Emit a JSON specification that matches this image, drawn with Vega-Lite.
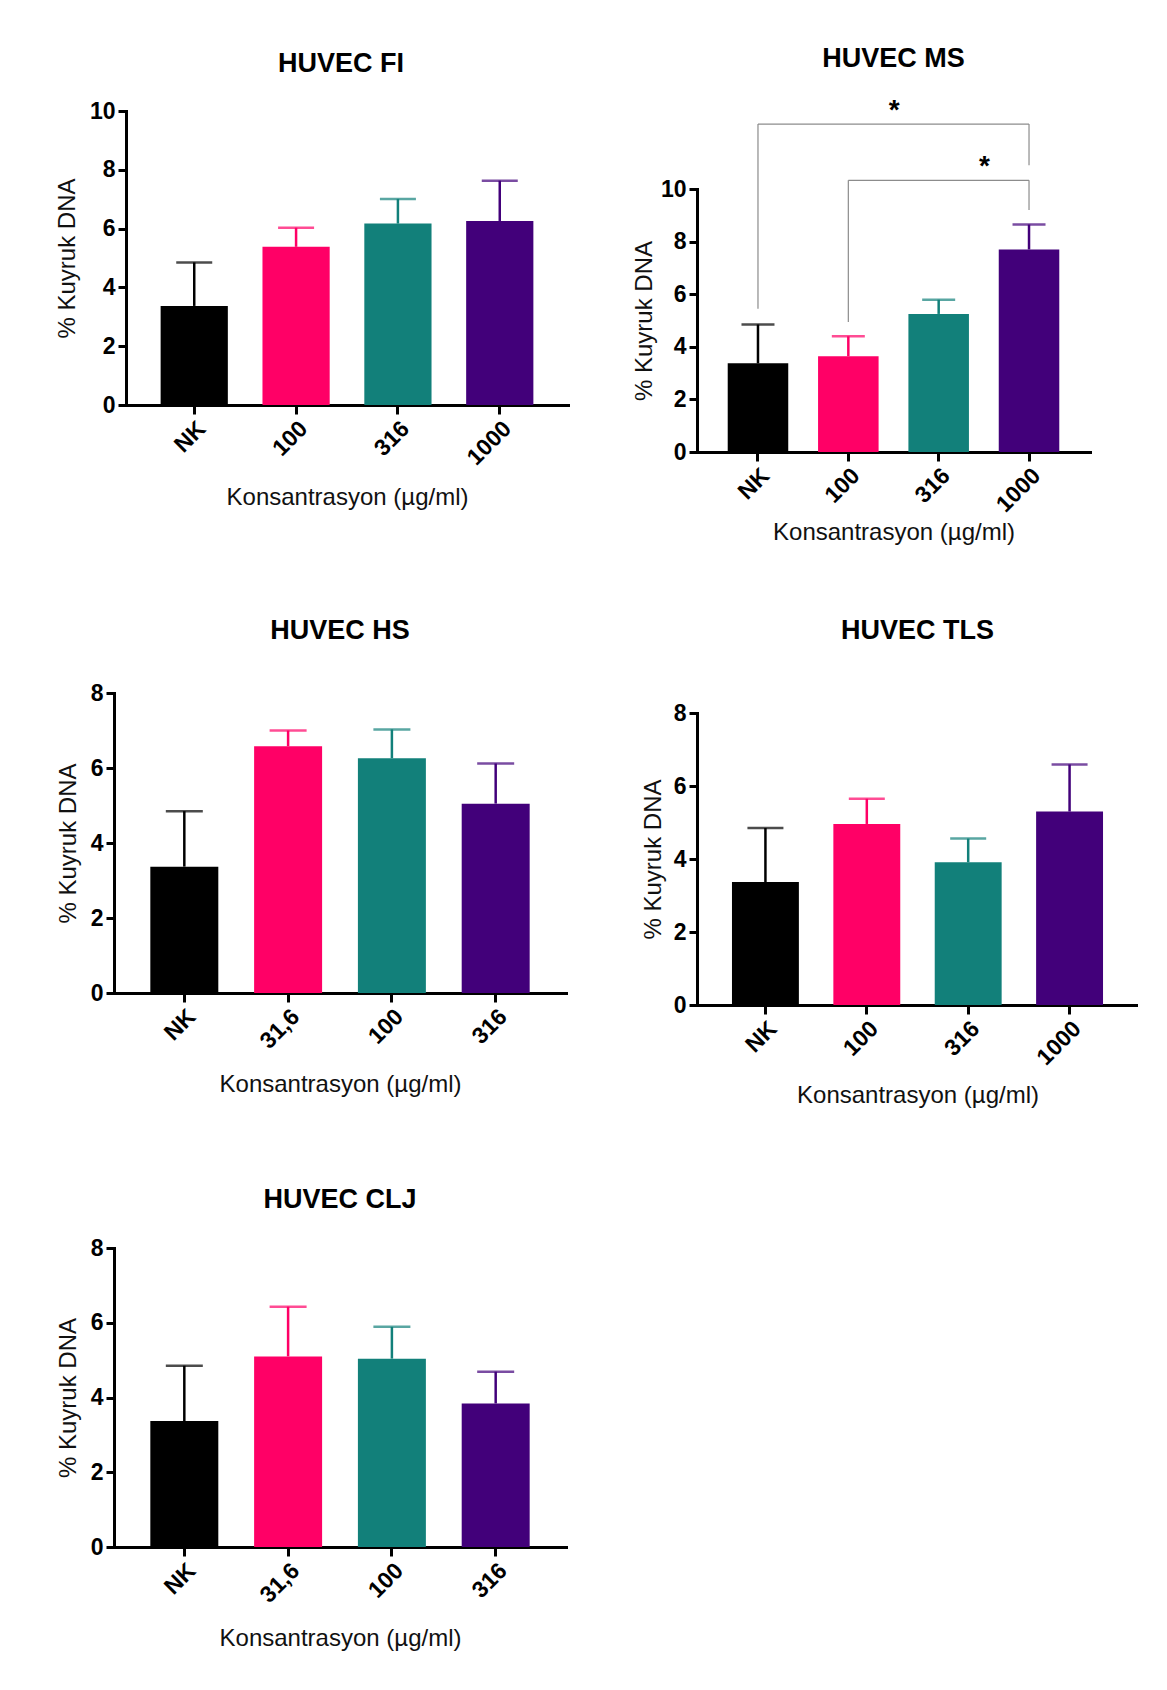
{
  "$schema": "https://vega.github.io/schema/vega-lite/v6.json",
  "background": "white",
  "padding": {"left": 55, "top": 45, "right": 0, "bottom": 0},
  "config": {
    "font": "Liberation Sans",
    "view": {"stroke": null},
    "title": {"fontSize": 27, "fontWeight": "bold", "color": "#000", "font": "Liberation Sans", "frame": "group", "anchor": "middle"},
    "axis": {
      "domainColor": "#000", "domainWidth": 3, "domainCap": "square",
      "tickColor": "#000", "tickWidth": 3,
      "labelFont": "Liberation Sans", "labelFontSize": 23, "labelFontWeight": "bold", "labelColor": "#000",
      "titleFont": "Liberation Sans", "titleFontSize": 24, "titleFontWeight": "normal", "titleColor": "#111",
      "grid": false, "labelOverlap": false
    },
    "axisX": {"labelAngle": -45, "tickSize": 9, "labelPadding": 3},
    "axisY": {"tickSize": 8, "labelPadding": 3}
  },
  "datasets": {
    "bars": [
      {"panel": "FI", "doz": "NK", "sira": 1, "ort": 3.37, "ust": 4.85},
      {"panel": "FI", "doz": "100", "sira": 2, "ort": 5.38, "ust": 6.03},
      {"panel": "FI", "doz": "316", "sira": 3, "ort": 6.17, "ust": 7.01},
      {"panel": "FI", "doz": "1000", "sira": 4, "ort": 6.26, "ust": 7.63},
      {"panel": "MS", "doz": "NK", "sira": 1, "ort": 3.37, "ust": 4.85},
      {"panel": "MS", "doz": "100", "sira": 2, "ort": 3.64, "ust": 4.40},
      {"panel": "MS", "doz": "316", "sira": 3, "ort": 5.25, "ust": 5.79},
      {"panel": "MS", "doz": "1000", "sira": 4, "ort": 7.70, "ust": 8.65},
      {"panel": "HS", "doz": "NK", "sira": 1, "ort": 3.37, "ust": 4.85},
      {"panel": "HS", "doz": "31,6", "sira": 2, "ort": 6.58, "ust": 7.00},
      {"panel": "HS", "doz": "100", "sira": 3, "ort": 6.26, "ust": 7.03},
      {"panel": "HS", "doz": "316", "sira": 4, "ort": 5.05, "ust": 6.12},
      {"panel": "TLS", "doz": "NK", "sira": 1, "ort": 3.37, "ust": 4.85},
      {"panel": "TLS", "doz": "100", "sira": 2, "ort": 4.96, "ust": 5.65},
      {"panel": "TLS", "doz": "316", "sira": 3, "ort": 3.91, "ust": 4.56},
      {"panel": "TLS", "doz": "1000", "sira": 4, "ort": 5.30, "ust": 6.59},
      {"panel": "CLJ", "doz": "NK", "sira": 1, "ort": 3.37, "ust": 4.85},
      {"panel": "CLJ", "doz": "31,6", "sira": 2, "ort": 5.10, "ust": 6.43},
      {"panel": "CLJ", "doz": "100", "sira": 3, "ort": 5.04, "ust": 5.89},
      {"panel": "CLJ", "doz": "316", "sira": 4, "ort": 3.84, "ust": 4.69}
    ],
    "yatay": [
      {"a": "NK", "b": "1000", "y": 12.47},
      {"a": "100", "b": "1000", "y": 10.33}
    ],
    "dikey": [
      {"a": "NK", "lo": 5.45, "hi": 12.47},
      {"a": "1000", "lo": 10.9, "hi": 12.47},
      {"a": "100", "lo": 4.94, "hi": 10.33},
      {"a": "1000", "lo": 9.2, "hi": 10.33}
    ],
    "yildiz": [
      {"a": "100", "y": 13.1, "t": "*"},
      {"a": "316", "y": 11.0, "t": "*"}
    ]
  },
  "hconcat": [
    {
      "spacing": 89,
      "vconcat": [
        {
          "width": 454, "height": 294,
          "title": {"text": "HUVEC FI", "offset": 22},
          "data": {"name": "bars"},
          "transform": [{"filter": "datum.panel === 'FI'"}],
          "encoding": {
            "x": {"field": "doz", "type": "nominal", "sort": ["NK", "100", "316", "1000"], "scale": {"range": [12, 454], "paddingInner": 0.34, "paddingOuter": 0.34},
                  "title": ["Konsantrasyon (µg/ml)", " "], "axis": {"titlePadding": 16, "titleLineHeight": 18}},
            "color": {"field": "sira", "type": "nominal", "scale": {"domain": [1, 2, 3, 4], "range": ["#000000", "#FF0066", "#12807A", "#42007A"]}, "legend": null}
          },
          "layer": [
            {"mark": {"type": "rule", "strokeWidth": 2.5},
             "encoding": {"y": {"field": "ort", "type": "quantitative", "scale": {"domain": [0, 10]}, "title": "% Kuyruk DNA", "axis": {"values": [0, 2, 4, 6, 8, 10], "offset": -12, "titlePadding": 9.5}}, "y2": {"field": "ust"}}},
            {"mark": {"type": "bar"},
             "encoding": {"y": {"field": "ort", "type": "quantitative", "scale": {"domain": [0, 10]}, "title": "% Kuyruk DNA"}}},
            {"mark": {"type": "tick", "thickness": 2.5, "size": 36},
             "encoding": {"y": {"field": "ust", "type": "quantitative", "scale": {"domain": [0, 10]}, "title": "% Kuyruk DNA"}}}
          ]
        },
        {
          "width": 452, "height": 300,
          "title": {"text": "HUVEC HS", "offset": 37},
          "data": {"name": "bars"},
          "transform": [{"filter": "datum.panel === 'HS'"}],
          "encoding": {
            "x": {"field": "doz", "type": "nominal", "sort": ["NK", "31,6", "100", "316"], "scale": {"paddingInner": 0.345, "paddingOuter": 0.35},
                  "title": "Konsantrasyon (µg/ml)", "axis": {"titlePadding": 20}},
            "color": {"field": "sira", "type": "nominal", "scale": {"domain": [1, 2, 3, 4], "range": ["#000000", "#FF0066", "#12807A", "#42007A"]}, "legend": null}
          },
          "layer": [
            {"mark": {"type": "rule", "strokeWidth": 2.5},
             "encoding": {"y": {"field": "ort", "type": "quantitative", "scale": {"domain": [0, 8]}, "title": "% Kuyruk DNA", "axis": {"values": [0, 2, 4, 6, 8], "titlePadding": 10}}, "y2": {"field": "ust"}}},
            {"mark": {"type": "bar"},
             "encoding": {"y": {"field": "ort", "type": "quantitative", "scale": {"domain": [0, 8]}, "title": "% Kuyruk DNA"}}},
            {"mark": {"type": "tick", "thickness": 2.5, "size": 37},
             "encoding": {"y": {"field": "ust", "type": "quantitative", "scale": {"domain": [0, 8]}, "title": "% Kuyruk DNA"}}}
          ]
        },
        {
          "width": 452, "height": 299,
          "title": {"text": "HUVEC CLJ", "offset": 23},
          "data": {"name": "bars"},
          "transform": [{"filter": "datum.panel === 'CLJ'"}],
          "encoding": {
            "x": {"field": "doz", "type": "nominal", "sort": ["NK", "31,6", "100", "316"], "scale": {"paddingInner": 0.345, "paddingOuter": 0.35},
                  "title": "Konsantrasyon (µg/ml)", "axis": {"titlePadding": 20}},
            "color": {"field": "sira", "type": "nominal", "scale": {"domain": [1, 2, 3, 4], "range": ["#000000", "#FF0066", "#12807A", "#42007A"]}, "legend": null}
          },
          "layer": [
            {"mark": {"type": "rule", "strokeWidth": 2.5},
             "encoding": {"y": {"field": "ort", "type": "quantitative", "scale": {"domain": [0, 8]}, "title": "% Kuyruk DNA", "axis": {"values": [0, 2, 4, 6, 8], "titlePadding": 10}}, "y2": {"field": "ust"}}},
            {"mark": {"type": "bar"},
             "encoding": {"y": {"field": "ort", "type": "quantitative", "scale": {"domain": [0, 8]}, "title": "% Kuyruk DNA"}}},
            {"mark": {"type": "tick", "thickness": 2.5, "size": 37},
             "encoding": {"y": {"field": "ust", "type": "quantitative", "scale": {"domain": [0, 8]}, "title": "% Kuyruk DNA"}}}
          ]
        }
      ]
    },
    {
      "spacing": 72,
      "vconcat": [
        {
          "width": 393, "height": 341,
          "title": {"text": "HUVEC MS", "offset": 24},
          "layer": [
            {"data": {"name": "bars"},
             "transform": [{"filter": "datum.panel === 'MS'"}],
             "mark": {"type": "rule", "strokeWidth": 2.5},
             "encoding": {
               "x": {"field": "doz", "type": "nominal", "sort": ["NK", "100", "316", "1000"], "scale": {"domain": ["NK", "100", "316", "1000"], "paddingInner": 0.33, "paddingOuter": 0.34}, "title": "Konsantrasyon (µg/ml)", "axis": {"titlePadding": 4}},
               "y": {"field": "ort", "type": "quantitative", "scale": {"domain": [0, 10], "range": [341, 78]}, "title": "% Kuyruk DNA", "axis": {"values": [0, 2, 4, 6, 8, 10], "titlePadding": 4}},
               "y2": {"field": "ust"},
               "color": {"field": "sira", "type": "nominal", "scale": {"domain": [1, 2, 3, 4], "range": ["#000000", "#FF0066", "#12807A", "#42007A"]}, "legend": null}
             }},
            {"data": {"name": "bars"},
             "transform": [{"filter": "datum.panel === 'MS'"}],
             "mark": {"type": "bar"},
             "encoding": {
               "x": {"field": "doz", "type": "nominal", "title": "Konsantrasyon (µg/ml)"},
               "y": {"field": "ort", "type": "quantitative", "title": "% Kuyruk DNA"},
               "color": {"field": "sira", "type": "nominal", "legend": null}
             }},
            {"data": {"name": "bars"},
             "transform": [{"filter": "datum.panel === 'MS'"}],
             "mark": {"type": "tick", "thickness": 2.5, "size": 33},
             "encoding": {
               "x": {"field": "doz", "type": "nominal", "title": "Konsantrasyon (µg/ml)"},
               "y": {"field": "ust", "type": "quantitative", "title": "% Kuyruk DNA"},
               "color": {"field": "sira", "type": "nominal", "legend": null}
             }},
            {"data": {"name": "dikey"},
             "mark": {"type": "rule", "strokeWidth": 1.2, "color": "#8c8c8c", "clip": false},
             "encoding": {
               "x": {"field": "a", "type": "nominal", "title": "Konsantrasyon (µg/ml)"},
               "y": {"field": "lo", "type": "quantitative", "title": "% Kuyruk DNA"},
               "y2": {"field": "hi"}
             }},
            {"data": {"name": "yatay"},
             "mark": {"type": "rule", "strokeWidth": 1.2, "color": "#8c8c8c", "clip": false},
             "encoding": {
               "x": {"field": "a", "type": "nominal", "title": "Konsantrasyon (µg/ml)"},
               "x2": {"field": "b"},
               "y": {"field": "y", "type": "quantitative", "title": "% Kuyruk DNA"}
             }},
            {"data": {"name": "yildiz"},
             "mark": {"type": "text", "fontSize": 28, "fontWeight": "bold", "color": "#000", "baseline": "middle", "dy": 4, "clip": false},
             "encoding": {
               "x": {"field": "a", "type": "nominal", "bandPosition": 1.2576, "title": "Konsantrasyon (µg/ml)"},
               "y": {"field": "y", "type": "quantitative", "title": "% Kuyruk DNA"},
               "text": {"field": "t"}
             }}
          ]
        },
        {
          "width": 441, "height": 292,
          "title": {"text": "HUVEC TLS", "offset": 57},
          "data": {"name": "bars"},
          "transform": [{"filter": "datum.panel === 'TLS'"}],
          "encoding": {
            "x": {"field": "doz", "type": "nominal", "sort": ["NK", "100", "316", "1000"], "scale": {"paddingInner": 0.34, "paddingOuter": 0.345},
                  "title": "Konsantrasyon (µg/ml)", "axis": {"titlePadding": 14}},
            "color": {"field": "sira", "type": "nominal", "scale": {"domain": [1, 2, 3, 4], "range": ["#000000", "#FF0066", "#12807A", "#42007A"]}, "legend": null}
          },
          "layer": [
            {"mark": {"type": "rule", "strokeWidth": 2.5},
             "encoding": {"y": {"field": "ort", "type": "quantitative", "scale": {"domain": [0, 8]}, "title": "% Kuyruk DNA", "axis": {"values": [0, 2, 4, 6, 8], "titlePadding": 8}}, "y2": {"field": "ust"}}},
            {"mark": {"type": "bar"},
             "encoding": {"y": {"field": "ort", "type": "quantitative", "scale": {"domain": [0, 8]}, "title": "% Kuyruk DNA"}}},
            {"mark": {"type": "tick", "thickness": 2.5, "size": 36},
             "encoding": {"y": {"field": "ust", "type": "quantitative", "scale": {"domain": [0, 8]}, "title": "% Kuyruk DNA"}}}
          ]
        }
      ]
    }
  ],
  "spacing": 64
}
